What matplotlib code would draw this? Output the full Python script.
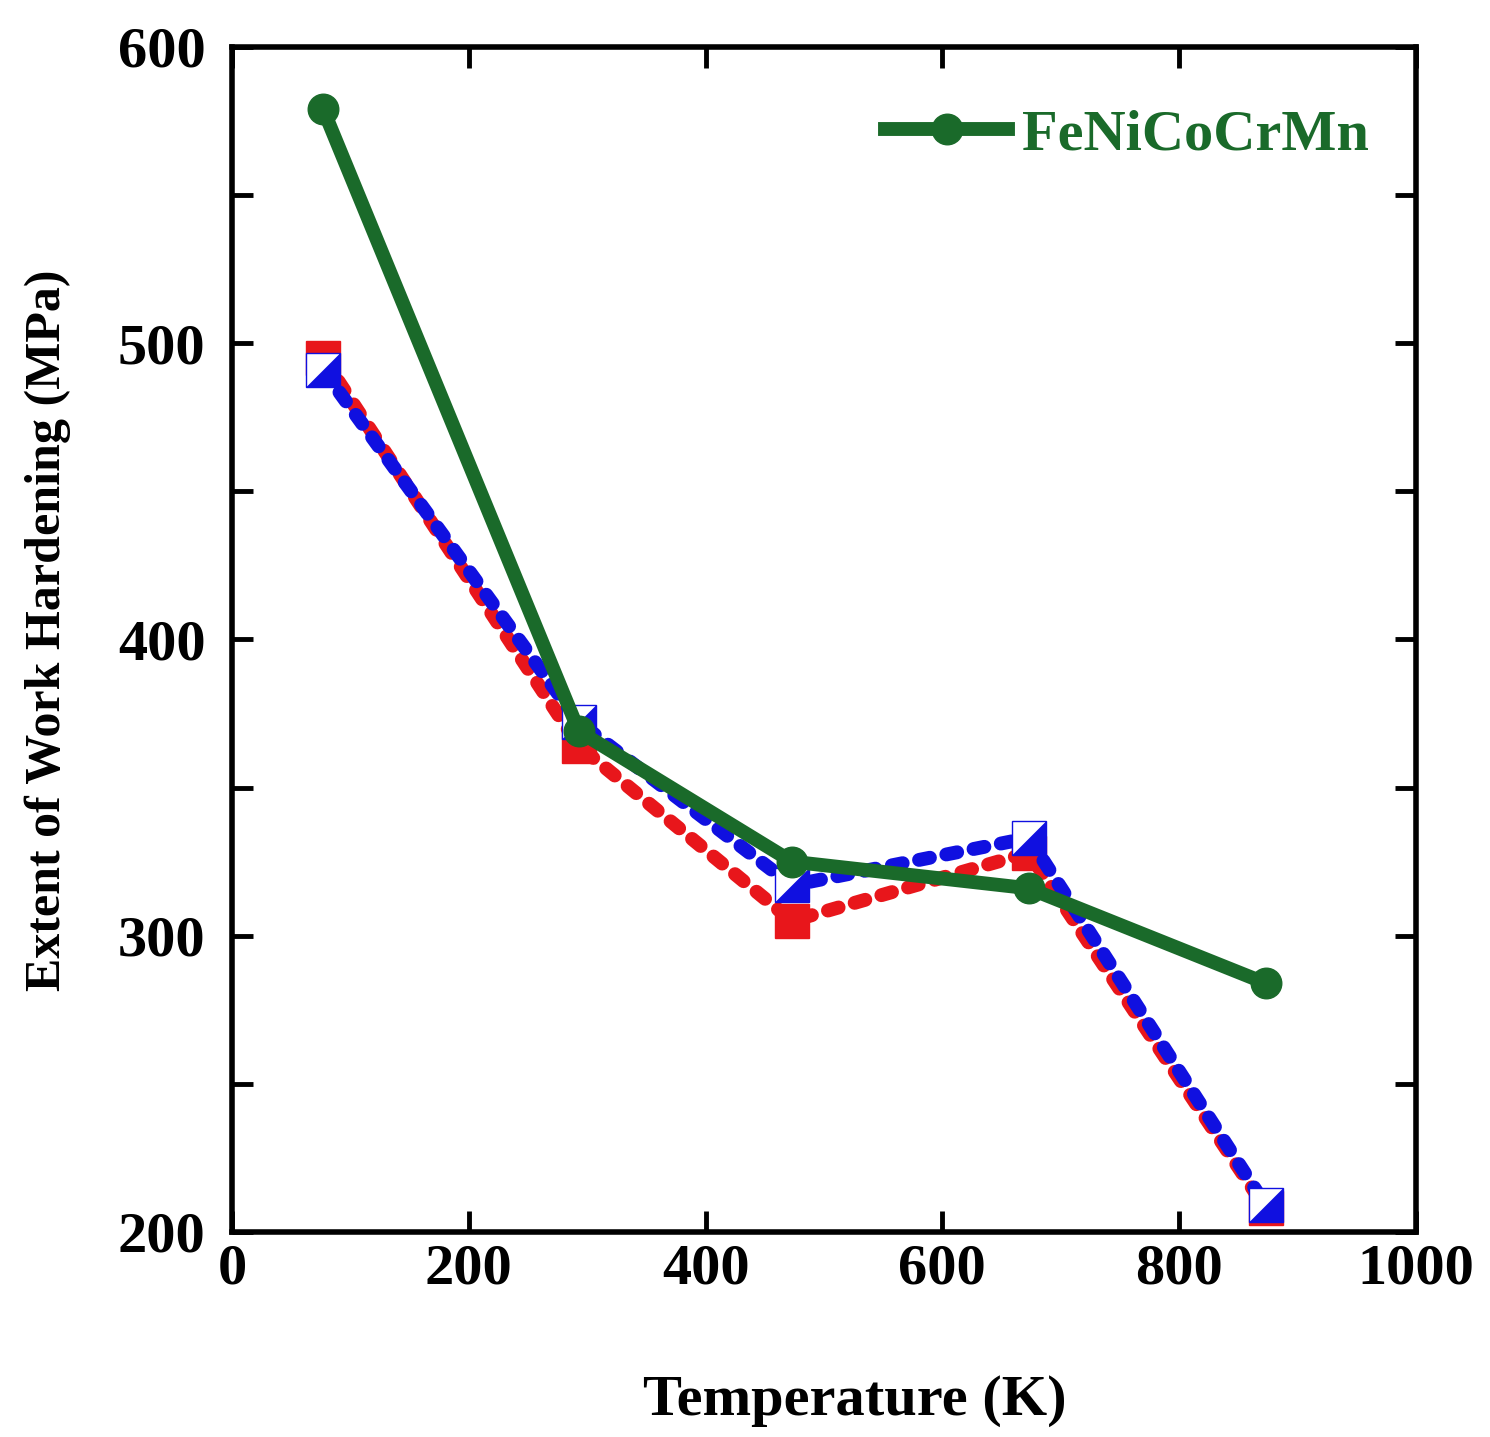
import numpy as np
import matplotlib
matplotlib.use("Agg")
import matplotlib.pyplot as plt

# temperatures (K) and extent of work hardening (MPa)
temps = [77, 293, 473, 673, 873]
hard_red = [495, 364, 305, 328, 208]
hard_blue = [491, 372, 317, 333, 209]
hard_green = [579, 369, 325, 316, 284]
green_label = "FeNiCoCrMn"

plt.rcParams['font.family'] = ['Liberation Serif', 'DejaVu Serif']
plt.rcParams['font.weight'] = 'bold'

RED = '#e8161b'
BLUE = '#1010e0'
GREEN = '#1a6a2a'

fig = plt.figure(figsize=(14.9, 14.37), dpi=100)
ax = fig.add_axes([0.1557, 0.1427, 0.7946, 0.8246])

dots = (0, (0.8, 1.2))

# red series: dotted line with filled squares
ax.plot(temps, hard_red, color=RED, lw=10, linestyle=dots,
        dash_capstyle='round', marker='s', ms=24, mfc=RED, mec=RED,
        zorder=2, clip_on=False)

# blue series: dotted line, open square with lower-right half filled
ax.plot(temps, hard_blue, color=BLUE, lw=10, linestyle=dots,
        dash_capstyle='round', zorder=3)
ax.plot(temps, hard_blue, linestyle='none', marker='s', ms=24,
        mfc='white', mec=BLUE, mew=1, zorder=4, clip_on=False)
half_tri = [(1, 1), (1, -1), (-1, -1), (1, 1)]
ax.plot(temps, hard_blue, linestyle='none', marker=half_tri, ms=24,
        mfc=BLUE, mec=BLUE, mew=0.5, zorder=5, clip_on=False)

# green series
ax.plot(temps, hard_green, color=GREEN, lw=10, marker='o', ms=22,
        mfc=GREEN, mec=GREEN, label=green_label, zorder=6)

ax.set_xlim(0, 1000)
ax.set_ylim(200, 600)
ax.set_xticks(np.arange(0, 1001, 200))
ax.set_yticks(np.arange(200, 601, 100))
ax.set_yticks(np.arange(250, 600, 100), minor=True)

for side in ax.spines.values():
    side.set_linewidth(4)

ax.tick_params(which='both', direction='in', top=True, right=True,
               length=15, width=3.5)
ax.tick_params(axis='both', labelsize=42)
ax.tick_params(axis='x', pad=8)
ax.tick_params(axis='y', pad=19)

ax.set_xlabel('Temperature (K)', fontsize=42, fontweight='bold')
ax.set_ylabel('Extent of Work Hardening (MPa)', fontsize=36,
              fontweight='bold')
ax.xaxis.set_label_coords(0.526, -0.121)
ax.yaxis.set_label_coords(-0.136, 0.508)

leg = ax.legend(loc='upper right', frameon=False, fontsize=42,
                handlelength=2.1, labelcolor=GREEN,
                bbox_to_anchor=(1.005, 0.992), handletextpad=0.25)

fig.savefig('out.png', dpi=100)
